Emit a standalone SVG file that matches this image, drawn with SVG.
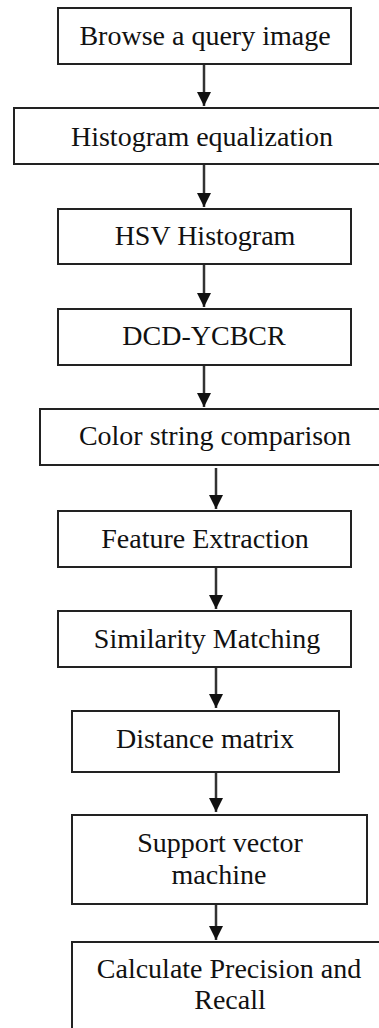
<svg xmlns="http://www.w3.org/2000/svg" width="379" height="1028" viewBox="0 0 379 1028">
  <style>
    .box { fill: #ffffff; stroke: #222222; stroke-width: 2; }
    .label { font-size: 28px; fill: #111111; text-anchor: middle; }
    .link { stroke: #333333; stroke-width: 2.5; fill: none; marker-end: url(#head); }
  </style>
  <defs>
    <marker id="head" markerUnits="userSpaceOnUse" markerWidth="14" markerHeight="14" viewBox="0 0 14 14" refX="7" refY="14" orient="0">
      <polygon points="0,0 14,0 7,14" fill="#111111"/>
    </marker>
  </defs>
  <rect width="379" height="1028" fill="#ffffff"/>

  <!-- connectors -->
  <g id="connectors">
    <line class="link" x1="204" y1="64" x2="204" y2="106"/>
    <line class="link" x1="204" y1="164" x2="204" y2="207"/>
    <line class="link" x1="204" y1="264" x2="204" y2="307"/>
    <line class="link" x1="204" y1="365" x2="204" y2="407"/>
    <line class="link" x1="216" y1="468" x2="216" y2="509"/>
    <line class="link" x1="216" y1="563" x2="216" y2="609"/>
    <line class="link" x1="216" y1="663" x2="216" y2="708"/>
    <line class="link" x1="216" y1="765" x2="216" y2="812"/>
    <line class="link" x1="216" y1="899" x2="216" y2="940"/>
  </g>

  <!-- process steps -->
  <g id="steps" font-family="Liberation Serif, Times New Roman, Times, serif">
  <g id="browse">
    <rect class="box" x="58" y="8" width="293" height="56"/>
    <text class="label" x="205" y="45">Browse a query image</text>
  </g>
  <g id="equalization">
    <rect class="box" x="14" y="108" width="380" height="56"/>
    <text class="label" x="202" y="146">Histogram equalization</text>
  </g>
  <g id="hsv">
    <rect class="box" x="58" y="209" width="293" height="55"/>
    <text class="label" x="205" y="245">HSV Histogram</text>
  </g>
  <g id="dcd">
    <rect class="box" x="58" y="309" width="293" height="56"/>
    <text class="label" x="204" y="345">DCD-YCBCR</text>
  </g>
  <g id="color-string">
    <rect class="box" x="40" y="409" width="360" height="56"/>
    <text class="label" x="215" y="445">Color string comparison</text>
  </g>
  <g id="feature">
    <rect class="box" x="58" y="511" width="293" height="56"/>
    <text class="label" x="205" y="548">Feature Extraction</text>
  </g>
  <g id="similarity">
    <rect class="box" x="58" y="611" width="293" height="56"/>
    <text class="label" x="207" y="648">Similarity Matching</text>
  </g>
  <g id="distance">
    <rect class="box" x="72" y="711" width="267" height="61"/>
    <text class="label" x="205" y="748">Distance matrix</text>
  </g>
  <g id="svm">
    <rect class="box" x="72" y="815" width="295" height="89"/>
    <text class="label" x="220" y="852">Support vector</text>
    <text class="label" x="219" y="884">machine</text>
  </g>
  <g id="precision">
    <rect class="box" x="72" y="942" width="330" height="110"/>
    <text class="label" x="229" y="978">Calculate Precision and</text>
    <text class="label" x="230" y="1009">Recall</text>
  </g>
  </g>
</svg>
